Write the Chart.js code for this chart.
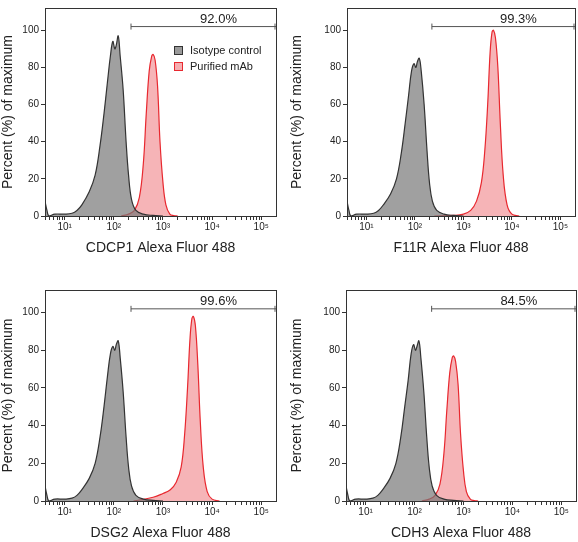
<!DOCTYPE html>
<html><head><meta charset="utf-8">
<script src="https://cdn.jsdelivr.net/npm/chart.js@4.4.0/dist/chart.umd.min.js"></script>
<style>
body{margin:0;background:#fff;width:578px;height:542px;position:relative;overflow:hidden}
.p{position:absolute;width:289px;height:271px}
</style></head><body>
<div class="p" style="left:0;top:0"><canvas id="c0"></canvas></div>
<div class="p" style="left:289px;top:0"><canvas id="c1"></canvas></div>
<div class="p" style="left:0;top:271px"><canvas id="c2"></canvas></div>
<div class="p" style="left:289px;top:271px"><canvas id="c3"></canvas></div>
<script>
// x values are log10(fluorescence)
const markers = ["CDCP1","F11R","DSG2","CDH3"];
const gatePercent = ["92.0%","99.3%","99.6%","84.5%"];
const gateStart = 2.35;
const gateLevel = 102;
const xTickValues = [1,2,3,4,5];
const xTickLabels = ["10¹","10²","10³","10⁴","10⁵"];
const yTickValues = [0,20,40,60,80,100];

const isoX = [0.6,0.64,0.68,0.8,1.0,1.15,1.25,1.35,1.5,1.62,1.72,1.8,1.87,1.93,1.98,2.02,2.05,2.09,2.13,2.19,2.25,2.3,2.36,2.45,2.6,2.8,3.0];
const iso0 = [8,3,0,1,1,1.5,3,6,13,22,38,55,72,86,94,90,92,97,86,68,40,22,9,3,1,0.3,0];
const iso1 = [8,3,0,1,1,1.5,3,6,12,20,34,50,65,78,82,80,83,85,78,60,35,18,8,3,1,0.3,0];
const iso2 = [8,3,0,1,1,1.5,3,6,12,20,34,50,66,78,82,80,83,85,76,58,34,18,8,3,1,0.3,0];
const iso3 = [8,3,0,1,1,1.5,3,6,12,20,34,50,64,78,83,80,82,85,76,58,34,18,8,3,1,0.3,0];

const redXA = [2.15,2.3,2.42,2.52,2.6,2.66,2.72,2.77,2.8,2.84,2.89,2.94,3.0,3.06,3.14,3.22,3.3];
const red0 = [0,1,3,10,28,55,78,86,87,84,70,40,18,6,1,0.2,0];
const red3 = [0,1,3,9,25,48,68,76,77,74,62,36,16,5,1,0.2,0];
const redXB = [2.4,2.8,3.0,3.15,3.27,3.37,3.44,3.5,3.55,3.59,3.62,3.66,3.71,3.76,3.82,3.9,4.0,4.15];
const red1 = [0,0.3,1,3,8,18,35,60,88,99,100,96,80,50,22,6,1,0];
const red2 = [0,2,4,6,10,18,35,60,86,97,98,93,72,42,18,5,1,0];

const isoSets = [iso0,iso1,iso2,iso3];
const redSets = [[redXA,red0],[redXB,red1],[redXB,red2],[redXA,red3]];

function pts(xs,ys){return xs.map((x,i)=>({x:x,y:ys[i]}));}

const framePlugin = {
  id:'frame',
  afterDatasetsDraw(chart,args,opts){
    const {ctx,chartArea:a,scales}=chart;
    ctx.save();
    ctx.strokeStyle='#333';ctx.lineWidth=1;
    ctx.strokeRect(a.left+0.5,a.top+0.5,a.right-a.left,a.bottom-a.top);
    const x1=scales.x.getPixelForValue(gateStart), x2=a.right;
    const y=scales.y.getPixelForValue(gateLevel);
    ctx.strokeStyle='#555';
    ctx.beginPath();ctx.moveTo(x1,y);ctx.lineTo(x2,y);
    ctx.moveTo(x1,y-3);ctx.lineTo(x1,y+3);ctx.moveTo(x2-1,y-3);ctx.lineTo(x2-1,y+3);ctx.stroke();
    ctx.fillStyle='#222';ctx.font='13px "Liberation Sans", Arial';ctx.textAlign='center';ctx.textBaseline='bottom';
    ctx.fillText(opts.label,(x1+x2)/2+15,y-1);
    if(opts.legend){
      const lx=a.left+129, ly=a.top+38;
      ctx.textAlign='left';ctx.textBaseline='middle';ctx.font='11px "Liberation Sans", Arial';
      ctx.fillStyle='rgba(120,120,120,0.75)';ctx.strokeStyle='#333';
      ctx.fillRect(lx,ly,9,9);ctx.strokeRect(lx+0.5,ly+0.5,8,8);
      ctx.fillStyle='#222';ctx.fillText('Isotype control',lx+16,ly+5);
      ctx.fillStyle='rgba(240,130,135,0.65)';ctx.strokeStyle='#e8282f';
      ctx.fillRect(lx,ly+16,9,9);ctx.strokeRect(lx+0.5,ly+16.5,8,8);
      ctx.fillStyle='#222';ctx.fillText('Purified mAb',lx+16,ly+21);
    }
    ctx.restore();
  }
};

const pads=[{left:0,right:13,top:4,bottom:14},{left:0,right:3,top:4,bottom:14},{left:0,right:13,top:19,bottom:0},{left:0,right:2,top:19,bottom:0}];
const yW=[45,58,45,57];

for(let i=0;i<4;i++){
  new Chart(document.getElementById('c'+i),{
    type:'line',
    data:{datasets:[
      {data:pts(redSets[i][0],redSets[i][1]),borderColor:'#e8282f',backgroundColor:'rgba(240,130,135,0.6)',fill:'origin',borderWidth:1.2,pointRadius:0,tension:0.4,order:2},
      {data:pts(isoX,isoSets[i]),borderColor:'#333',backgroundColor:'rgba(120,120,120,0.7)',fill:'origin',borderWidth:1.2,pointRadius:0,tension:0.4,order:1}
    ]},
    options:{
      responsive:true,maintainAspectRatio:false,animation:false,
      layout:{padding:pads[i]},
      plugins:{legend:{display:false},tooltip:{enabled:false},frame:{label:gatePercent[i],legend:i===0}},
      scales:{
        x:{type:'linear',min:0.6,max:5.3,
          grid:{display:true,drawOnChartArea:false,drawTicks:true,tickLength:4,color:'#333'},border:{display:false},
          afterBuildTicks(s){const t=[];for(let d=0;d<6;d++)for(let k=1;k<10;k++){const v=d+Math.log10(k);if(v>=0.6&&v<=5.3)t.push({value:v});}s.ticks=t;},
          afterFit(s){s.height=41;},
          ticks:{autoSkip:false,maxRotation:0,padding:1,color:'#222',font:{size:10,family:'"Liberation Sans", Arial'},
            callback(v){const j=xTickValues.findIndex(t=>Math.abs(t-v)<1e-9);return j>=0?xTickLabels[j]:'';}},
          title:{display:true,text:markers[i]+' Alexa Fluor 488',color:'#222',font:{size:14,family:'"Liberation Sans", Arial'},padding:{top:2,bottom:0}}
        },
        y:{min:0,max:112,
          grid:{display:true,drawOnChartArea:false,drawTicks:true,tickLength:4,color:'#333'},border:{display:false},
          afterBuildTicks(s){s.ticks=yTickValues.map(v=>({value:v}));},
          afterFit(s){s.width=yW[i];},
          ticks:{padding:2,color:'#222',font:{size:10,family:'"Liberation Sans", Arial'}},
          title:{display:true,text:'Percent (%) of maximum',color:'#222',font:{size:14,family:'"Liberation Sans", Arial'},padding:{top:0,bottom:2}}
        }
      }
    },
    plugins:[framePlugin]
  });
}
</script></body></html>
